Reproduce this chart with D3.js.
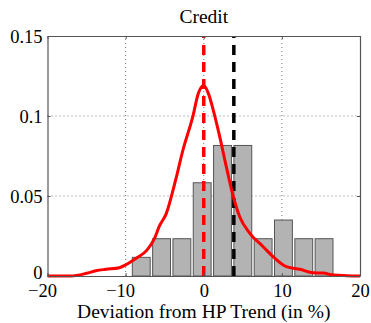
<!DOCTYPE html>
<html>
<head>
<meta charset="utf-8">
<script src="https://cdn.jsdelivr.net/npm/d3@7"></script>
<style>
  html, body { margin: 0; padding: 0; background: #fff; }
  svg { display: block; }
  text { font-family: "Liberation Serif", "Times New Roman", serif; fill: #000; }
</style>
</head>
<body>
<svg id="chart" width="371" height="323"></svg>
<script>
// Histogram bins of credit deviation (bin centres, in %) and their density
const binCenters = [-8, -5.4, -2.8, -0.2, 2.4, 5.0, 7.6, 10.2, 12.8, 15.4];
const binDensity = [0.01166, 0.02331, 0.02331, 0.05828, 0.08159, 0.08159, 0.02331, 0.03497, 0.02331, 0.02331];
const binWidth = 2.6;

// Kernel density estimate of the same sample
const kdeX = [-20, -17, -15, -13.8, -12.5, -10.8, -9.9, -8.6, -7.3, -6.3, -5.7, -4.8, -3.6, -2.65, -1.4, -0.7, 0, 0.6, 1.2, 2.05, 2.9, 3.76, 4.6, 5.9, 7.6, 8.9, 10.6, 12.3, 14.0, 15.3, 16.6, 18.3, 20];
const kdeY = [0, 0, 0.0017, 0.0033, 0.0042, 0.0052, 0.0072, 0.0112, 0.016, 0.0235, 0.031, 0.039, 0.060, 0.079, 0.0996, 0.114, 0.119, 0.114, 0.104, 0.087, 0.068, 0.05, 0.037, 0.0267, 0.0183, 0.012, 0.0058, 0.0042, 0.002, 0.0018, 0.0006, 0.0002, 0];

// Reference lines: zero deviation and sample mean
const zeroLine = 0;
const meanLine = 3.85;

const xTicks = [-20, -10, 0, 10, 20];
const yTicks = [0, 0.05, 0.1, 0.15];
const yTickLabels = ["0", "0.05", "0.1", "0.15"];

const margin = { left: 47.5, right: 11, top: 36, bottom: 47 };
const W = 371, H = 323;
const svg = d3.select("#chart");

const x = d3.scaleLinear().domain([-20, 20]).range([margin.left, W - margin.right]);
const y = d3.scaleLinear().domain([0, 0.15]).range([H - margin.bottom, margin.top]);

const plot = svg.append("g");

// dotted grid
plot.selectAll("line.gx").data([-10, 0, 10]).enter().append("line")
  .attr("x1", d => x(d)).attr("x2", d => x(d))
  .attr("y1", y(0)).attr("y2", y(0.15))
  .attr("stroke", "#777").attr("stroke-width", 1).attr("stroke-dasharray", "1,3");
plot.selectAll("line.gy").data([0.05, 0.1]).enter().append("line")
  .attr("y1", d => y(d)).attr("y2", d => y(d))
  .attr("x1", x(-20)).attr("x2", x(20))
  .attr("stroke", "#777").attr("stroke-width", 1).attr("stroke-dasharray", "1,3");

// histogram bars
const barW = x(binWidth * 0.88) - x(0);
plot.selectAll("rect.bar").data(binCenters).enter().append("rect")
  .attr("x", (d) => x(d) - barW / 2)
  .attr("width", barW)
  .attr("y", (d, i) => y(binDensity[i]))
  .attr("height", (d, i) => y(0) - y(binDensity[i]))
  .attr("fill", "#b3b3b3").attr("stroke", "#555").attr("stroke-width", 1);

// vertical reference lines
plot.append("line")
  .attr("x1", x(meanLine)).attr("x2", x(meanLine))
  .attr("y1", y(0)).attr("y2", y(0.15))
  .attr("stroke", "#000").attr("stroke-width", 3.5).attr("stroke-dasharray", "10,7");
plot.append("line")
  .attr("x1", x(zeroLine)).attr("x2", x(zeroLine))
  .attr("y1", y(0)).attr("y2", y(0.15))
  .attr("stroke", "#ff0000").attr("stroke-width", 3.5).attr("stroke-dasharray", "10,7");

// density curve
const line = d3.line().x((d, i) => x(kdeX[i])).y(d => y(d)).curve(d3.curveMonotoneX);
plot.append("path").datum(kdeY)
  .attr("d", line)
  .attr("fill", "none").attr("stroke", "#ff0000").attr("stroke-width", 3)
  .attr("stroke-linejoin", "round");

// axes box with inward ticks
const axColor = "#555";
const xb = svg.append("g").attr("transform", `translate(0,${y(0)})`)
  .call(d3.axisBottom(x).tickValues(xTicks).tickSizeInner(-3).tickSizeOuter(0).tickPadding(6)
    .tickFormat(d => d < 0 ? "\u2212" + Math.abs(d) : d));
const xt = svg.append("g").attr("transform", `translate(0,${y(0.15)})`)
  .call(d3.axisTop(x).tickValues(xTicks).tickSizeInner(-3).tickSizeOuter(0).tickFormat(""));
const yl = svg.append("g").attr("transform", `translate(${x(-20)},0)`)
  .call(d3.axisLeft(y).tickValues(yTicks).tickSizeInner(-3).tickSizeOuter(0).tickPadding(5)
    .tickFormat((d, i) => yTickLabels[i]));
const yr = svg.append("g").attr("transform", `translate(${x(20)},0)`)
  .call(d3.axisRight(y).tickValues(yTicks).tickSizeInner(-3).tickSizeOuter(0).tickFormat(""));

[xb, xt, yl, yr].forEach(g => {
  g.select(".domain").attr("stroke", axColor).attr("stroke-width", 1.2);
  g.selectAll(".tick line").attr("stroke", axColor);
  g.selectAll("text").attr("font-family", "Liberation Serif, serif").attr("font-size", 18.5).attr("fill", "#000");
});
// negative labels keep their digits centred on the tick, minus hanging left
xb.selectAll("text").attr("dy", null).attr("y", 21)
  .attr("dx", d => d < 0 ? -5.5 : 0);
yl.selectAll("text").attr("dy", null).attr("x", -5)
  .attr("y", (d, i) => i === 0 ? 2 : 6);

// title and axis label
svg.append("text").attr("x", x(0)).attr("y", 23)
  .attr("text-anchor", "middle").attr("font-size", 19.5).text("Credit");
svg.append("text").attr("x", x(0)).attr("y", 318)
  .attr("text-anchor", "middle").attr("font-size", 19.5).text("Deviation from HP Trend (in %)");
</script>
</body>
</html>
